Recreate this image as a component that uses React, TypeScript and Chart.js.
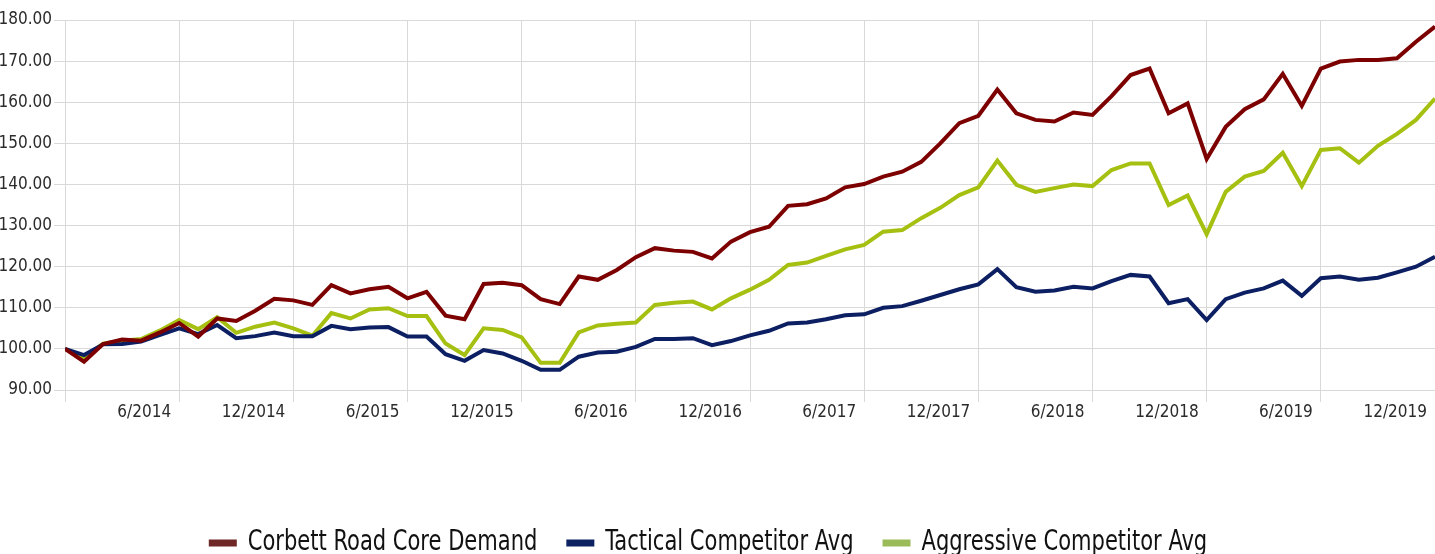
import React, { useEffect, useRef } from "react";
import { Chart, registerables } from "chart.js";

Chart.register(...registerables);

const seriesNames = ["Corbett Road Core Demand", "Tactical Competitor Avg", "Aggressive Competitor Avg"];

const xTickLabels = [
  "6/2014", "12/2014", "6/2015", "12/2015", "6/2016", "12/2016",
  "6/2017", "12/2017", "6/2018", "12/2018", "6/2019", "12/2019",
];

const corbett = [
  100, 96.9, 101.2, 102.3, 102.0, 104.0, 106.3, 103.0, 107.4, 106.8, 109.3, 112.2,
  111.8, 110.7, 115.5, 113.5, 114.5, 115.1, 112.3, 113.9, 108.1, 107.2, 115.8, 116.1,
  115.5, 112.1, 110.9, 117.6, 116.8, 119.2, 122.3, 124.5, 123.9, 123.6, 122.0, 126.1,
  128.4, 129.7, 134.8, 135.2, 136.6, 139.3, 140.1, 141.9, 143.1, 145.5, 150.0, 154.9,
  156.7, 163.1, 157.3, 155.7, 155.3, 157.5, 156.9, 161.5, 166.6, 168.2, 157.3, 159.7,
  146.2, 154.0, 158.3, 160.7, 166.9, 159.1, 168.2, 169.9, 170.3, 170.3, 170.7, 174.7,
  178.4,
];

const tactical = [
  100, 98.5, 101.1, 101.2, 101.8, 103.4, 105.0, 103.6, 105.8, 102.6, 103.1, 104.0,
  103.1, 103.1, 105.6, 104.8, 105.2, 105.3, 103.0, 103.0, 98.7, 97.1, 99.7, 98.9,
  97.1, 94.9, 94.9, 98.1, 99.1, 99.3, 100.5, 102.4, 102.4, 102.6, 100.9, 101.9,
  103.3, 104.4, 106.2, 106.4, 107.2, 108.2, 108.4, 110.0, 110.4, 111.7, 113.1, 114.5,
  115.7, 119.4, 115.0, 113.9, 114.2, 115.1, 114.7, 116.5, 118.0, 117.6, 111.1, 112.1,
  107.0, 112.1, 113.7, 114.7, 116.6, 112.9, 117.2, 117.6, 116.8, 117.3, 118.6, 120.0,
  122.4,
];

const aggressive = [
  100, 97.8, 101.3, 102.0, 102.4, 104.5, 107.0, 104.8, 107.7, 103.9, 105.4, 106.4,
  105.0, 103.2, 108.7, 107.4, 109.6, 109.9, 108.0, 108.0, 101.3, 98.5, 105.0, 104.6,
  102.8, 96.6, 96.6, 104.0, 105.7, 106.1, 106.4, 110.7, 111.2, 111.5, 109.6, 112.3,
  114.4, 116.8, 120.4, 121.0, 122.6, 124.2, 125.3, 128.5, 128.9, 131.8, 134.3, 137.4,
  139.3, 145.8, 139.9, 138.2, 139.1, 140.0, 139.6, 143.5, 145.1, 145.1, 135.0, 137.3,
  127.9, 138.2, 141.9, 143.3, 147.7, 139.6, 148.4, 148.8, 145.3, 149.4, 152.3, 155.7,
  160.9,
];

const lineColors = ["#7d0000", "#0c1f62", "#a6c012"];
const legendColors = ["#6e2626", "#0c2262", "#9bbb59"];

const tickFont = "'DejaVu Sans Condensed', 'DejaVu Sans', sans-serif";
const legendFont = "'DejaVu Sans Condensed', 'DejaVu Sans', sans-serif";
const gridColor = "#d9d9d9";

// Legend drawn with a horizontally condensed face (no narrow font is installed).
const narrowLegend = {
  id: "narrowLegend",
  afterDraw(chart: any) {
    const ctx = chart.ctx as CanvasRenderingContext2D;
    const squeeze = 0.835;
    const size = 28;
    const boxW = 28;
    const boxH = 7;
    const boxGap = 11;
    const itemGap = 29;
    const centerX = 708;
    const midY = 543;
    ctx.save();
    ctx.font = `${size}px ${legendFont}`;
    const widths = seriesNames.map((n) => ctx.measureText(n).width * squeeze);
    const total =
      widths.reduce((a, w) => a + boxW + boxGap + w, 0) + itemGap * (seriesNames.length - 1);
    let x = centerX - total / 2;
    seriesNames.forEach((name, k) => {
      ctx.fillStyle = legendColors[k];
      ctx.fillRect(x, midY - boxH / 2, boxW, boxH);
      ctx.save();
      ctx.translate(x + boxW + boxGap, midY);
      ctx.scale(squeeze, 1);
      ctx.fillStyle = "#111";
      ctx.textBaseline = "middle";
      ctx.textAlign = "left";
      ctx.fillText(name, 0, 0);
      ctx.restore();
      x += boxW + boxGap + widths[k] + itemGap;
    });
    ctx.restore();
  },
};

export default function App() {
  const ref = useRef<HTMLCanvasElement | null>(null);

  useEffect(() => {
    if (!ref.current) return;
    const all = [corbett, tactical, aggressive];
    const chart = new Chart(ref.current, {
      type: "line",
      data: {
        datasets: all.map((arr, k) => ({
          label: seriesNames[k],
          data: arr.map((v, i) => ({ x: i, y: v })),
          borderColor: lineColors[k],
          backgroundColor: legendColors[k],
          borderWidth: 4,
          pointRadius: 0,
          tension: 0,
          fill: false,
        })),
      },
      plugins: [narrowLegend],
      options: {
        animation: false,
        responsive: false,
        events: [],
        layout: { padding: { top: 20, left: 0, right: 0, bottom: 0 } },
        plugins: {
          tooltip: { enabled: false },
          legend: { display: false },
        },
        scales: {
          x: {
            type: "linear",
            min: 0,
            max: 72,
            afterFit: (s: any) => {
              s.height = 164;
            },
            grid: { color: gridColor, lineWidth: 1, tickLength: 12, drawTicks: true },
            border: { color: gridColor, width: 1 },
            ticks: {
              stepSize: 6,
              autoSkip: false,
              maxRotation: 0,
              align: "end",
              labelOffset: -8,
              padding: 0,
              color: "#2b2b2b",
              font: { family: tickFont, size: 17 },
              callback: (v: any) => {
                const n = Number(v);
                if (n === 0) return "";
                return xTickLabels[n / 6 - 1] ?? "";
              },
            },
          },
          y: {
            min: 90,
            max: 180,
            afterFit: (s: any) => {
              s.width = 65;
            },
            grid: { color: gridColor, lineWidth: 1, tickLength: 11 },
            border: { color: gridColor, width: 1 },
            ticks: {
              stepSize: 10,
              padding: 2,
              color: "#2b2b2b",
              font: { family: tickFont, size: 17 },
              callback: (v: any) => Number(v).toFixed(2),
            },
          },
        },
      },
    });
    return () => chart.destroy();
  }, []);

  return (
    <div style={{ position: "fixed", left: 0, top: 0, width: 1435, height: 554, background: "#fff" }}>
      <canvas ref={ref} width={1435} height={554} style={{ display: "block" }} />
    </div>
  );
}
